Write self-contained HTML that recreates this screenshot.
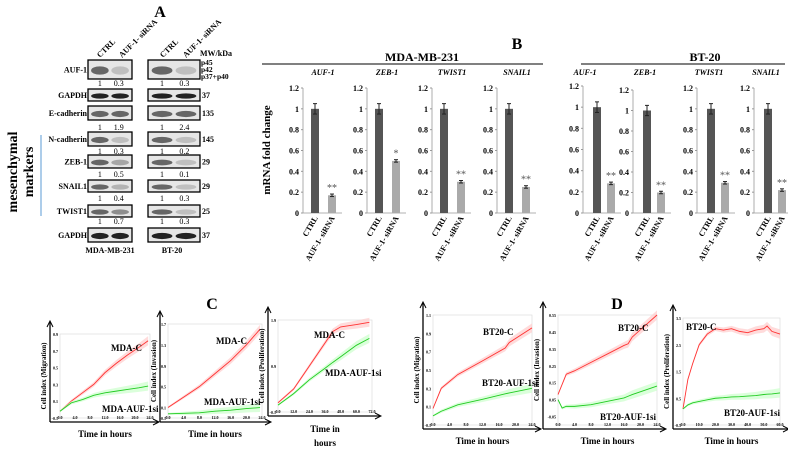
<!DOCTYPE html>
<html><head><meta charset="utf-8"><style>
body{margin:0;background:#fff}
svg{display:block;font-family:"Liberation Serif",serif}
</style></head><body>
<svg id="fig" width="788" height="452" viewBox="0 0 788 452" xmlns="http://www.w3.org/2000/svg">
<rect width="788" height="452" fill="#fff"/>
<g id="panelA"></g>
<g id="panelB"></g>
<g id="panelCD"></g>
</svg>
<script>
// ---------- Panel B data ----------
const genes = ["AUF-1","ZEB-1","TWIST1","SNAIL1"];
const mdaCtrl = [1,1,1,1];
const mdaSi = [0.17,0.5,0.3,0.25];
const mdaStars = ["**","*","**","**"];
const btCtrl = [1,1,1,1];
const btSi = [0.28,0.2,0.29,0.22];
const btStars = ["**","**","**","**"];
const barTicks = ["0","0.2","0.4","0.6","0.8","1","1.2"];

// ---------- Panel A data ----------
const blotRows = ["AUF-1","GAPDH","E-cadherin","N-cadherin","ZEB-1","SNAIL1","TWIST1","GAPDH"];
const mdaRatio = [["1","0.3"],null,["1","1.9"],["1","0.3"],["1","0.5"],["1","0.4"],["1","0.7"],null];
const btRatio = [["1","0.3"],null,["1","2.4"],["1","0.2"],["1","0.1"],["1","0.3"],["1","0.3"],null];
const mwLabels = ["","37","135","145","29","29","25","37"];

// ---------- Panel C/D data ----------
const c1T=[0,3,6,9,12,15,18,21,23.5], c1C=[-0.02,0.1,0.2,0.3,0.44,0.55,0.65,0.74,0.82], c1S=[-0.02,0.08,0.12,0.17,0.2,0.22,0.24,0.26,0.28];
const c2T=[0,4,8,12,16,20,23.5], c2C=[0.1,0.3,0.5,0.75,1.0,1.3,1.6], c2S=[-0.02,-0.01,0,0.03,0.05,0.08,0.1];
const c3T=[0,12,24,36,42,48,60,70], c3C=[0.1,0.4,0.9,1.4,1.65,1.75,1.8,1.85], c3S=[0.05,0.3,0.6,0.85,0.98,1.1,1.35,1.5];
const d1T=[0,2,6,12,17.5,18.5,24], d1C=[0.08,0.3,0.45,0.6,0.74,0.8,0.96], d1S=[0,0.05,0.12,0.18,0.24,0.25,0.3];
const d2T=[0,1,2,4,8,12,16,17,18,24], d2C=[0.08,0.14,0.2,0.22,0.27,0.32,0.37,0.38,0.42,0.55], d2S=[0.05,0.0,0.01,0.01,0.02,0.04,0.06,0.07,0.08,0.13];
const d3T=[0,3,6,10,15,20,25,30,35,40,45,50,52,55,60], d3C=[0.1,1.2,1.8,2.5,2.9,3.1,3.05,3.1,3.0,2.95,3.05,3.1,3.2,3.0,2.9], d3S=[0.1,0.25,0.33,0.38,0.44,0.5,0.52,0.55,0.56,0.58,0.6,0.64,0.65,0.66,0.7];

const NS="http://www.w3.org/2000/svg";
function el(tag,attrs,parent,txt){const e=document.createElementNS(NS,tag);for(const k in attrs)e.setAttribute(k,attrs[k]);if(txt!==undefined)e.textContent=txt;parent.appendChild(e);return e;}

// ---------- Panel A ----------
(function(){
const g=document.getElementById('panelA');
let t=el('text',{x:160,y:17,'font-size':16,'font-weight':'bold','text-anchor':'middle'},g,'A');

const heads=[[100,'CTRL'],[122,'AUF-1- siRNA'],[163,'CTRL'],[186,'AUF-1- siRNA']];
heads.forEach(h=>{const tx=el('text',{x:h[0],y:58,'font-size':8,'font-weight':'bold',transform:`rotate(-45 ${h[0]} 58)`},g,h[1]);
});
let mw=el('text',{x:200,y:56,'font-size':8,'font-weight':'bold'},g,'MW/kDa');

const boxes=[[60,79],[89,101],[106,120],[132,146],[155,168],[180,192],[205,217],[228,242]];
const numsY=[86,null,130,154,177,201,224,null];
boxes.forEach((b,i)=>{
 const lab=el('text',{x:87,y:(b[0]+b[1])/2+3,'font-size':8,'font-weight':'bold','text-anchor':'end'},g,blotRows[i]);
 
 [[88,132],[148,200]].forEach((c,j)=>{
  const r=el('rect',{x:c[0],y:b[0],width:c[1]-c[0],height:b[1]-b[0],fill:'#e6e6e6',stroke:'#000','stroke-width':1.3},g);
  
  const w=(c[1]-c[0]);const dark=(i===1||i===7)?'#222':'#666';
  const ratios=j===0?mdaRatio[i]:btRatio[i];
  [0.27,0.73].forEach((f,k)=>{
    const op=ratios&&k===1?Math.max(0.3,Math.min(1,parseFloat(ratios[1]))):1;
    el('ellipse',{cx:c[0]+w*f,cy:(b[0]+b[1])/2+1,rx:w*0.2,ry:(b[1]-b[0])*0.22,fill:dark,opacity:op},g);
  });
  if(ratios){[0,1].forEach(k=>{const n=el('text',{x:c[0]+w*(k?0.7:0.27),y:numsY[i],'font-size':8,'text-anchor':'middle'},g,ratios[k]);
   });}
 });
 if(mwLabels[i]){const m=el('text',{x:202,y:(b[0]+b[1])/2+3,'font-size':8,'font-weight':'bold'},g,mwLabels[i]);}
});
['p45','p42','p37+p40'].forEach((p,k)=>{const m=el('text',{x:201,y:65+k*7,'font-size':7.5,'font-weight':'bold'},g,p);});
let l1=el('text',{x:110,y:253,'font-size':8,'font-weight':'bold','text-anchor':'middle'},g,'MDA-MB-231');
let l2=el('text',{x:172,y:253,'font-size':8,'font-weight':'bold','text-anchor':'middle'},g,'BT-20');
el('line',{x1:41,y1:135,x2:41,y2:216,stroke:'#5b9bd5','stroke-width':1},g);
let m1=el('text',{x:0,y:0,'font-size':14,'font-weight':'bold','text-anchor':'middle',transform:'translate(17 172) rotate(-90)'},g,'mesenchymal');
let m2=el('text',{x:0,y:0,'font-size':14,'font-weight':'bold','text-anchor':'middle',transform:'translate(33 172) rotate(-90)'},g,'markers');
})();

// ---------- Panel B ----------
(function(){
const g=document.getElementById('panelB');
let t=el('text',{x:517,y:49,'font-size':16,'font-weight':'bold','text-anchor':'middle'},g,'B');
let h1=el('text',{x:422,y:61,'font-size':12,'font-weight':'bold','text-anchor':'middle'},g,'MDA-MB-231');
el('line',{x1:262,y1:64,x2:543,y2:64,stroke:'#000','stroke-width':1},g);
let h2=el('text',{x:705,y:61,'font-size':12,'font-weight':'bold','text-anchor':'middle'},g,'BT-20');
el('line',{x1:581,y1:64,x2:785,y2:64,stroke:'#000','stroke-width':1},g);
let yl=el('text',{x:0,y:0,'font-size':11,'font-weight':'bold','text-anchor':'middle',transform:'translate(270 150) rotate(-90)'},g,'mRNA fold change');
const zeroY=213;
function panel(ax,top,gene,ctrl,si,star,off1,off2,titleX){
 const sc=v=>zeroY-(zeroY-top)*v/1.2;
 const tt=el('text',{x:titleX,y:75,'font-size':8,'font-weight':'bold','font-style':'italic','text-anchor':'middle'},g,gene);
 
 el('line',{x1:ax,y1:top,x2:ax,y2:zeroY,stroke:'#999','stroke-width':0.8},g);
 el('line',{x1:ax,y1:zeroY,x2:ax+off2+10,y2:zeroY,stroke:'#999','stroke-width':0.8},g);
 barTicks.forEach(tk=>{const y=sc(parseFloat(tk));el('line',{x1:ax-2,y1:y,x2:ax,y2:y,stroke:'#999'},g);
  const tl=el('text',{x:ax-4,y:y+3,'font-size':8,'font-weight':'bold','text-anchor':'end'},g,tk);});
 [[off1,ctrl,'#555','CTRL'],[off2,si,'#aaa','AUF-1- siRNA']].forEach((b,k)=>{
  const x=ax+b[0];const y=sc(b[1]);
  const r=el('rect',{x:x-4,y:y,width:8,height:zeroY-y,fill:b[2]},g);
  
  const e=k?0.012:0.05;
  el('line',{x1:x,y1:sc(b[1]+e),x2:x,y2:sc(b[1]-e),stroke:'#222'},g);
  el('line',{x1:x-2,y1:sc(b[1]+e),x2:x+2,y2:sc(b[1]+e),stroke:'#222'},g);
  el('line',{x1:x-2,y1:sc(b[1]-e),x2:x+2,y2:sc(b[1]-e),stroke:'#222'},g);
  const xl=el('text',{x:x+3,y:zeroY+5,'font-size':8,'font-weight':'bold','text-anchor':'end',transform:`rotate(-60 ${x+3} ${zeroY+5})`},g,b[3]);
  
 });
 const s=el('text',{x:ax+off2,y:sc(si+0.012)-3,'font-size':10,'text-anchor':'middle',fill:'#555'},g,star);
 
}
const mAx=[303,367,432,497], bAx=[583,633,697,754], bTop=[86,90,88,88];
genes.forEach((gn,i)=>panel(mAx[i],88,gn,mdaCtrl[i],mdaSi[i],mdaStars[i],12,29,mAx[i]+20));
genes.forEach((gn,i)=>panel(bAx[i],bTop[i],gn,btCtrl[i],btSi[i],btStars[i],14,28,bAx[i]+(i===0?2:12)));
})();

// ---------- Panels C / D ----------
(function(){
const g=document.getElementById('panelCD');
let c=el('text',{x:212,y:309,'font-size':16,'font-weight':'bold','text-anchor':'middle'},g,'C');
let d=el('text',{x:617,y:309,'font-size':16,'font-weight':'bold','text-anchor':'middle'},g,'D');
function chart(o){
 const {ax,x0,x1,y0,y1,xmax,ymin,ymax,T,C,S,ylab,cl,sl,xt,yt,two}=o;
 const sx=v=>x0+(x1-x0)*v/xmax, sy=v=>y1-(y1-y0)*(v-ymin)/(ymax-ymin);
 el('rect',{x:x0,y:y0,width:x1-x0,height:y1-y0,fill:'none',stroke:'#ddd','stroke-width':0.7},g);
 el('line',{x1:ax,y1:y0-12,x2:ax,y2:y1+4,stroke:'#000','stroke-width':1.3},g);
 el('path',{d:`M${ax-3} ${y0-7} L${ax} ${y0-13} L${ax+3} ${y0-7}`,fill:'none',stroke:'#000'},g);
 el('line',{x1:ax,y1:y1+4,x2:x1+8,y2:y1+4,stroke:'#000','stroke-width':1.3},g);
 el('path',{d:`M${x1+3} ${y1+1} L${x1+9} ${y1+4} L${x1+3} ${y1+7}`,fill:'none',stroke:'#000'},g);
 const yl=el('text',{x:0,y:0,'font-size':7,'font-weight':'bold','text-anchor':'middle',transform:`translate(${ax-4} ${(y0+y1)/2}) rotate(-90)`},g,ylab);
 
 xt.forEach(v=>{const t=el('text',{x:sx(v),y:y1+1,'font-size':4,'font-weight':'bold','text-anchor':'middle'},g,v.toFixed(1));});
 yt.forEach(v=>{const t=el('text',{x:x0-2,y:sy(v)+2,'font-size':4,'font-weight':'bold','text-anchor':'end'},g,String(v));});
 [[C,'#f33','#fcc','control-line'],[S,'#2c2','#cfc','sirna-line']].forEach(s=>{
  const pts=T.map((t,i)=>[sx(t),sy(s[0][i])]);
  const n=T.length;
  const band=el('polygon',{points:T.map((t,i)=>sx(t)+','+(sy(s[0][i])-1-4*i/n)).concat(T.map((t,i)=>sx(t)+','+(sy(s[0][i])+1+4*i/n)).reverse()).join(' '),fill:s[2],opacity:0.7},g);
  
  const p=el('polyline',{points:pts.map(p=>p.join(',')).join(' '),fill:'none',stroke:s[1],'stroke-width':0.9},g);
  
 });
 const a=el('text',{x:cl[0],y:cl[1],'font-size':9,'font-weight':'bold'},g,cl[2]);
 const b=el('text',{x:sl[0],y:sl[1],'font-size':9,'font-weight':'bold'},g,sl[2]);
 const mx=(x0+x1)/2;
 if(two){[['Time in',432],['hours',446]].forEach(q=>{const t=el('text',{x:mx,y:q[1],'font-size':9,'font-weight':'bold','text-anchor':'middle'},g,q[0]);});}
 else{const t=el('text',{x:mx,y:y1+19,'font-size':9,'font-weight':'bold','text-anchor':'middle'},g,'Time in hours');}
}
chart({ax:50,x0:60,x1:150,y0:334,y1:418,xmax:24,ymin:-0.1,ymax:0.9,T:c1T,C:c1C,S:c1S,ylab:'Cell index (Migration)',cl:[111,351,'MDA-C'],sl:[102,412,'MDA-AUF-1si'],xt:[0,4,8,12,16,20,24],yt:[-0.1,0.1,0.3,0.5,0.7,0.9]});
chart({ax:160,x0:168,x1:262,y0:324,y1:418,xmax:24,ymin:-0.1,ymax:1.7,T:c2T,C:c2C,S:c2S,ylab:'Cell index (Invasion)',cl:[216,344,'MDA-C'],sl:[204,405,'MDA-AUF-1si'],xt:[0,4,8,12,16,20,24],yt:[-0.1,0.1,0.5,0.9,1.3,1.7]});
chart({ax:268,x0:278,x1:372,y0:320,y1:412,xmax:72,ymin:-0.1,ymax:1.9,T:c3T,C:c3C,S:c3S,ylab:'Cell index (Proliferation)',cl:[314,338,'MDA-C'],sl:[325,376,'MDA-AUF-1si'],xt:[0,12,24,36,48,60,72],yt:[-0.1,0.9,1.9],two:true});
chart({ax:423,x0:433,x1:532,y0:315,y1:425,xmax:24,ymin:-0.1,ymax:1.1,T:d1T,C:d1C,S:d1S,ylab:'Cell index (Migration)',cl:[483,335,'BT20-C'],sl:[482,386,'BT20-AUF-1si'],xt:[0,4,8,12,16,20,24],yt:[-0.1,0.1,0.3,0.5,0.7,0.9,1.1]});
chart({ax:543,x0:558,x1:657,y0:315,y1:425,xmax:24,ymin:-0.1,ymax:0.55,T:d2T,C:d2C,S:d2S,ylab:'Cell index (Invasion)',cl:[618,331,'BT20-C'],sl:[600,420,'BT20-AUF-1si'],xt:[0,4,8,12,16,20,24],yt:[-0.05,0.05,0.15,0.25,0.35,0.45,0.55]});
chart({ax:673,x0:683,x1:780,y0:318,y1:425,xmax:60,ymin:-0.5,ymax:3.5,T:d3T,C:d3C,S:d3S,ylab:'Cell index (Proliferation)',cl:[686,330,'BT20-C'],sl:[724,416,'BT20-AUF-1si'],xt:[0,10,20,30,40,50,60],yt:[-0.5,0.5,1.5,2.5,3.5]});
})();
</script>
</body></html>
